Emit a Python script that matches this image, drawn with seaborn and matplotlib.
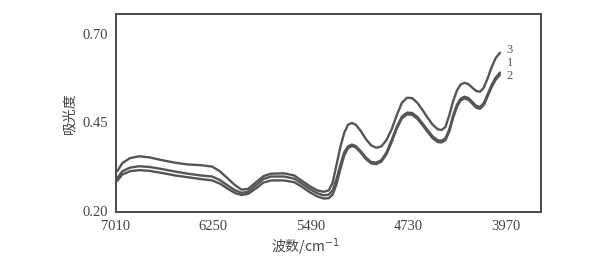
import numpy as np
import pandas as pd
import matplotlib
matplotlib.use("Agg")
import matplotlib.pyplot as plt
import seaborn as sns

# ---- data ----
wavenumber = [7000, 6960, 6900, 6830, 6750, 6650, 6550, 6450, 6350, 6260,
              6200, 6140, 6080, 6030, 5980, 5920, 5860, 5800, 5700, 5620,
              5560, 5500, 5440, 5390, 5350, 5320, 5290, 5260, 5230, 5200,
              5170, 5140, 5100, 5060, 5020, 4980, 4940, 4900, 4860, 4820,
              4780, 4740, 4700, 4660, 4620, 4580, 4540, 4500, 4470, 4440,
              4410, 4380, 4350, 4320, 4290, 4260, 4230, 4200, 4170, 4140,
              4110, 4080, 4050, 4015]

curve3 = [0.312, 0.335, 0.349, 0.354, 0.351, 0.343, 0.336, 0.331, 0.329, 0.325,
          0.312, 0.292, 0.272, 0.260, 0.262, 0.280, 0.298, 0.305, 0.306, 0.300,
          0.285, 0.270, 0.258, 0.254, 0.258, 0.280, 0.330, 0.380, 0.420, 0.443,
          0.448, 0.443, 0.425, 0.402, 0.385, 0.378, 0.382, 0.400, 0.430, 0.470,
          0.505, 0.519, 0.518, 0.505, 0.485, 0.463, 0.443, 0.430, 0.428, 0.437,
          0.470, 0.510, 0.540, 0.557, 0.561, 0.557, 0.547, 0.538, 0.536, 0.548,
          0.575, 0.605, 0.630, 0.646]

curve1 = [0.293, 0.312, 0.322, 0.326, 0.324, 0.318, 0.311, 0.305, 0.300, 0.297,
          0.287, 0.272, 0.258, 0.251, 0.254, 0.272, 0.290, 0.297, 0.297, 0.291,
          0.277, 0.262, 0.250, 0.244, 0.246, 0.258, 0.290, 0.330, 0.365, 0.382,
          0.387, 0.383, 0.368, 0.350, 0.338, 0.336, 0.343, 0.365, 0.400, 0.437,
          0.466, 0.477, 0.476, 0.465, 0.447, 0.428, 0.410, 0.399, 0.398, 0.405,
          0.430, 0.470, 0.500, 0.517, 0.522, 0.518, 0.507, 0.496, 0.493, 0.505,
          0.530, 0.555, 0.575, 0.590]

curve2 = [0.285, 0.303, 0.312, 0.315, 0.313, 0.307, 0.300, 0.295, 0.290, 0.286,
          0.277, 0.263, 0.250, 0.245, 0.248, 0.263, 0.280, 0.286, 0.286, 0.281,
          0.268, 0.253, 0.241, 0.235, 0.236, 0.246, 0.275, 0.318, 0.356, 0.377,
          0.383, 0.379, 0.364, 0.346, 0.334, 0.332, 0.339, 0.360, 0.394, 0.432,
          0.461, 0.472, 0.471, 0.460, 0.442, 0.423, 0.405, 0.394, 0.393, 0.400,
          0.424, 0.463, 0.494, 0.512, 0.517, 0.513, 0.502, 0.491, 0.488, 0.499,
          0.524, 0.549, 0.569, 0.584]

series_names = ["3", "1", "2"]
label_y = [0.654, 0.617, 0.580]

xticks = [7010, 6250, 5490, 4730, 3970]
yticks = [0.20, 0.45, 0.70]
ytick_labels = ["0.20", "0.45", "0.70"]

# ---- build long-form table ----
df = pd.concat([
    pd.DataFrame({"wavenumber": wavenumber, "absorbance": vals, "sample": name})
    for name, vals in zip(series_names, [curve3, curve1, curve2])
], ignore_index=True)

sns.set_theme(style="white")
plt.rcParams["font.family"] = ["Liberation Serif", "Noto Sans CJK SC", "DejaVu Sans"]
plt.rcParams["axes.unicode_minus"] = False

ink = "#4a4a4a"
fig = plt.figure(figsize=(6.10, 2.62), dpi=100)
ax = fig.add_axes([116 / 610, 1 - 212 / 262, (541 - 116) / 610, (212 - 14) / 262])

sns.lineplot(data=df, x="wavenumber", y="absorbance", hue="sample",
             palette={n: "#555555" for n in series_names},
             linewidth=1.7, legend=False, ax=ax, sort=False)

ax.set_xlim(7010, 3695)
ax.set_ylim(0.197, 0.755)
ax.set_xticks(xticks)
ax.set_xticklabels([str(t) for t in xticks])
ax.set_yticks(yticks)
ax.set_yticklabels(ytick_labels)

ax.tick_params(axis="both", direction="in", length=7, width=1.3, color=ink,
               labelsize=10.5, labelcolor="#444444", pad=6)
for s in ax.spines.values():
    s.set_color(ink)
    s.set_linewidth(1.4)
ax.grid(False)

ax.set_xlabel("波数/cm$^{-1}$", fontsize=10, color="#444444",
              family=["Noto Sans CJK SC", "DejaVu Sans"])
ax.xaxis.set_label_coords(0.445, -0.125)
ax.set_ylabel("吸光度", fontsize=10, color="#444444",
              family=["Noto Sans CJK SC", "DejaVu Sans"])
ax.yaxis.set_label_coords(-0.092, 0.5)

for name, yy in zip(series_names, label_y):
    ax.text(3962, yy, name, fontsize=9, color="#555555", va="center", ha="left")

fig.savefig("out.png", dpi=100, facecolor="white")
